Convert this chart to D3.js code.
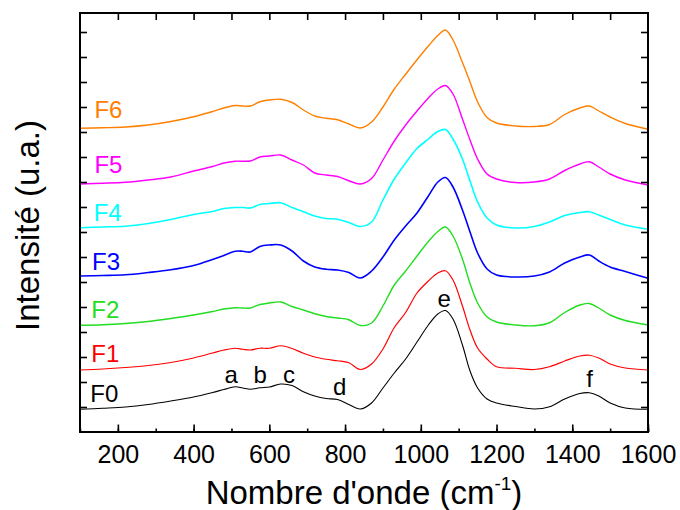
<!DOCTYPE html>
<html>
<head>
<meta charset="utf-8">
<script src="https://cdn.jsdelivr.net/npm/d3@7"></script>
<style>
  html, body { margin: 0; padding: 0; background: #fff; }
  svg { display: block; font-family: "Liberation Sans", Arial, sans-serif; }
</style>
</head>
<body>
<svg id="chart" width="680" height="510"></svg>
<script>
// Wavenumbers (cm-1)
const wavenumbers = [100,160,220,280,340,400,450,480,510,530,550,575,600,630,660,690,720,750,780,810,840,870,900,930,960,990,1020,1045,1065,1085,1110,1130,1150,1175,1200,1250,1300,1340,1380,1420,1445,1470,1500,1540,1600];

// Intensity (u.a., stacked as in the figure)
const F0 = [0.91,0.95,1.00,1.10,1.24,1.40,1.58,1.70,1.81,1.76,1.71,1.77,1.80,1.92,1.86,1.61,1.44,1.34,1.30,1.10,0.92,1.16,1.76,2.36,2.92,3.60,4.28,4.72,4.86,4.52,3.48,2.44,1.76,1.32,1.16,1.02,0.92,1.01,1.32,1.54,1.57,1.44,1.16,0.96,0.91];
const F1 = [2.48,2.52,2.58,2.66,2.78,2.96,3.16,3.28,3.35,3.31,3.28,3.35,3.35,3.45,3.34,3.15,3.00,2.91,2.85,2.77,2.50,2.72,3.32,4.18,4.78,5.56,6.04,6.36,6.45,6.08,5.04,4.08,3.36,2.92,2.61,2.55,2.50,2.61,2.84,3.04,3.07,2.96,2.72,2.56,2.48];
const F2 = [4.27,4.29,4.34,4.42,4.54,4.68,4.82,4.92,4.97,4.96,4.96,5.10,5.16,5.20,5.02,4.88,4.73,4.62,4.56,4.49,4.26,4.36,5.04,5.88,6.44,7.04,7.62,8.02,8.20,7.84,6.92,5.94,5.16,4.60,4.40,4.28,4.25,4.37,4.78,5.08,5.14,4.96,4.68,4.46,4.28];
const F3 = [6.24,6.26,6.29,6.38,6.49,6.66,6.90,7.06,7.23,7.23,7.20,7.42,7.48,7.48,7.24,6.84,6.60,6.51,6.48,6.38,6.16,6.44,7.00,7.68,8.24,8.76,9.44,10.00,10.18,9.80,8.88,8.00,7.16,6.52,6.28,6.20,6.24,6.40,6.76,7.00,7.08,6.84,6.60,6.42,6.15];
const F4 = [8.17,8.20,8.23,8.34,8.50,8.70,8.82,8.94,8.98,8.98,8.96,9.10,9.14,9.17,8.98,8.81,8.64,8.54,8.51,8.38,8.22,8.40,9.28,10.12,10.76,11.34,11.72,12.02,12.10,11.72,10.92,10.04,9.20,8.56,8.28,8.16,8.22,8.40,8.66,8.78,8.81,8.68,8.50,8.28,8.11];
const F5 = [9.92,9.95,9.99,10.08,10.20,10.44,10.62,10.76,10.83,10.83,10.84,11.00,11.04,11.08,10.88,10.68,10.36,10.28,10.22,10.05,9.92,10.14,10.88,11.64,12.28,12.84,13.36,13.72,13.86,13.52,12.52,11.68,10.92,10.32,10.12,9.98,10.00,10.12,10.46,10.72,10.81,10.60,10.32,10.08,9.88];
const F6 = [12.15,12.17,12.20,12.28,12.42,12.61,12.82,12.96,13.06,13.04,13.04,13.21,13.28,13.31,13.18,12.88,12.64,12.55,12.49,12.32,12.16,12.40,13.00,13.72,14.31,14.89,15.44,15.86,16.08,15.68,14.78,14.00,13.20,12.58,12.36,12.24,12.22,12.30,12.70,12.96,13.04,12.84,12.60,12.34,12.11];

const seriesNames = ["F0","F1","F2","F3","F4","F5","F6"];
const seriesValues = [F0,F1,F2,F3,F4,F5,F6];
const seriesColors = ["#000000","#ff0000","#22dd22","#0000ff","#00ffff","#ff00ff","#ff8000"];
// label anchor (wavenumber, intensity) for series names
const labelPos = [[127,1.21],[130,2.81],[130,4.55],[132,6.47],[136,8.44],[138,10.35],[138,12.55]];

// Band labels
const bandNames = ["a","b","c","d","e","f"];
const bandWavenumbers = [499,576,652,786,1062,1446];
const bandLevels = [1.97,1.97,1.97,1.48,5.0,1.81];

const xTicks = [200,400,600,800,1000,1200,1400,1600];
const xMinor = [100,200,300,400,500,600,700,800,900,1000,1100,1200,1300,1400,1500,1600];
const yTicks = d3.range(1,17);

const margin = {left: 80, right: 32, top: 13, bottom: 78};
const W = 680, H = 510;
const svg = d3.select("#chart");

const x = d3.scaleLinear().domain([100,1600]).range([margin.left, W - margin.right]);
const y = d3.scaleLinear().domain([0,16.76]).range([H - margin.bottom, margin.top]);

// curves
const line = d3.line()
  .x((d,i) => x(wavenumbers[i]))
  .y(d => y(d))
  .curve(d3.curveCatmullRom.alpha(0.5));

const widths = [1.1,1.2,1.4,1.6,1.6,1.4,1.4];
seriesValues.forEach((vals, k) => {
  svg.append("path")
    .attr("d", line(vals))
    .attr("fill","none")
    .attr("stroke", seriesColors[k])
    .attr("stroke-width", widths[k]);
});

// series labels
seriesNames.forEach((n,k) => {
  svg.append("text")
    .attr("x", x(labelPos[k][0]))
    .attr("y", y(labelPos[k][1]))
    .attr("font-size", 24)
    .attr("fill", seriesColors[k])
    .text(n);
});

// band labels
bandNames.forEach((n,k) => {
  svg.append("text")
    .attr("x", x(bandWavenumbers[k]))
    .attr("y", y(bandLevels[k]))
    .attr("text-anchor","middle")
    .attr("font-size", 24)
    .attr("fill", "#000")
    .text(n);
});

// axes
const gB = svg.append("g").attr("transform", `translate(0,${H - margin.bottom})`);
gB.call(d3.axisBottom(x).tickValues(xMinor).tickSize(-3.5).tickFormat(""));
gB.call(g => g.select(".domain").remove());
const gB2 = svg.append("g").attr("transform", `translate(0,${H - margin.bottom})`);
gB2.call(d3.axisBottom(x).tickValues(xTicks).tickSize(-7.5).tickPadding(13.5).tickFormat(d3.format("d")));
gB2.selectAll(".tick text").attr("font-size", 25).attr("fill","#000").attr("font-family","'Liberation Sans', Arial, sans-serif");
gB2.call(g => g.select(".domain").remove());

const gT = svg.append("g").attr("transform", `translate(0,${margin.top})`);
gT.call(d3.axisTop(x).tickValues(xMinor.filter(v => v > 100 && v < 1600)).tickSize(-7).tickFormat(""));
gT.call(g => g.select(".domain").remove());

const gL = svg.append("g").attr("transform", `translate(${margin.left},0)`);
gL.call(d3.axisLeft(y).tickValues(yTicks).tickSize(-7).tickFormat(""));
gL.call(g => g.select(".domain").remove());

const gR = svg.append("g").attr("transform", `translate(${W - margin.right},0)`);
gR.call(d3.axisRight(y).tickValues(yTicks).tickSize(-7).tickFormat(""));
gR.call(g => g.select(".domain").remove());

svg.selectAll(".tick line").attr("stroke","#000").attr("stroke-width",1.6);

// frame
svg.append("rect")
  .attr("x", margin.left).attr("y", margin.top)
  .attr("width", W - margin.left - margin.right)
  .attr("height", H - margin.top - margin.bottom)
  .attr("fill","none").attr("stroke","#000").attr("stroke-width",2);

// axis titles
const xt = svg.append("text")
  .attr("x", (margin.left + W - margin.right)/2 )
  .attr("y", 504)
  .attr("text-anchor","middle")
  .attr("font-size", 33)
  .attr("fill","#000");
xt.append("tspan").text("Nombre d'onde (cm");
xt.append("tspan").attr("font-size", 19).attr("dy", -14).text("-1");
xt.append("tspan").attr("dy", 14).text(")");

svg.append("text")
  .attr("transform", `translate(39,${(margin.top + H - margin.bottom)/2 + 3}) rotate(-90)`)
  .attr("text-anchor","middle")
  .attr("font-size", 33)
  .attr("fill","#000")
  .text("Intensité (u.a.)");
</script>
</body>
</html>
